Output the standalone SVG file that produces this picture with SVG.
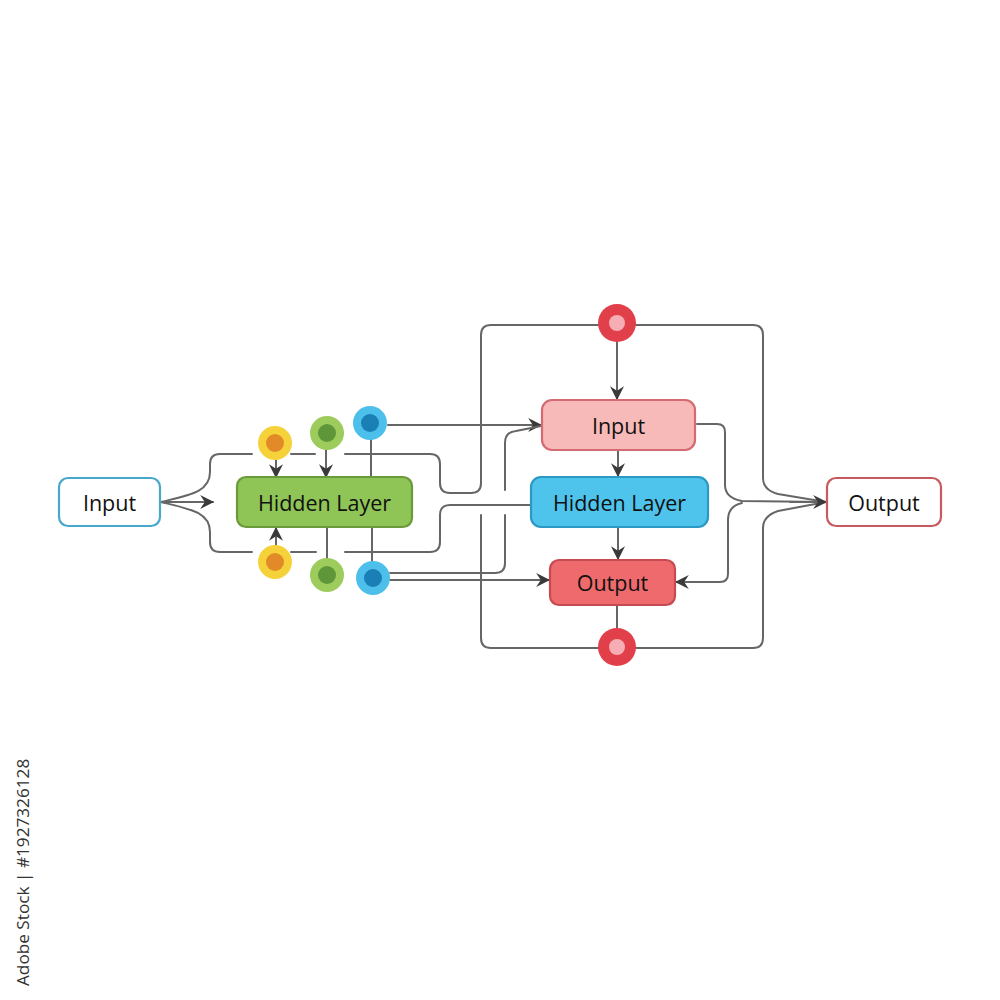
<svg xmlns="http://www.w3.org/2000/svg" width="1000" height="1000" viewBox="0 0 1000 1000">
<defs>
<marker id="ah" viewBox="0 0 12 12" refX="11" refY="6" markerWidth="14" markerHeight="14" markerUnits="userSpaceOnUse" orient="auto">
<path d="M0,0 L12,6 L0,12 L4,6 z" fill="#3a3a3a"/>
</marker>
<style>
.ln{fill:none;stroke:#666666;stroke-width:2;stroke-linecap:round;stroke-linejoin:round}
.ar{marker-end:url(#ah)}
.lbl{font-family:"Open Sans","Noto Sans","DejaVu Sans",sans-serif;font-size:21.5px;fill:#111111;text-anchor:middle;dominant-baseline:central}
.box{stroke-width:2.2}
</style>
</defs>
<rect width="1000" height="1000" fill="#ffffff"/>

<g id="connectors">
<path class="ln ar" d="M161,502 L213,502"/>
<path class="ln" d="M161,502 C190,495 210,492 210,472 L210,464 Q210,454 220,454 L252,454"/>
<path class="ln" d="M161,502 C190,509 210,512 210,532 L210,542 Q210,552 220,552 L252,552"/>
<path class="ln" d="M291,454 L315,454"/>
<path class="ln" d="M345,454 L430,454 Q440,454 440,464 L440,483 Q440,493 450,493 L471,493 Q481,493 481,483 L481,335 Q481,325 491,325 L753,325 Q763,325 763,335 L763,478 Q763,490 778,494 L826,502"/>
<path class="ln" d="M291,552 L316,552"/>
<path class="ln" d="M345,552 L430,552 Q440,552 440,542 L440,515 Q440,505 450,505 L531,505"/>
<path class="ln" d="M481,515 L481,638 Q481,648 491,648 L753,648 Q763,648 763,638 L763,528 Q763,516 778,511 L826,502"/>
<path class="ln ar" d="M276,460 L276,477"/>
<path class="ln ar" d="M326,450 L326,477"/>
<path class="ln ar" d="M276,545 L276,528"/>
<path class="ln" d="M327,528 L327,558"/>
<path class="ln" d="M371,440 L371,478"/>
<path class="ln" d="M372,527 L372,561"/>
<path class="ln ar" d="M388,425 L541,425"/>
<path class="ln" d="M505,490 L505,443 Q505,432 516,431 L541,426"/>
<path class="ln" d="M390,573 L495,573 Q505,573 505,563 L505,515"/>
<path class="ln ar" d="M390,580 L549,580"/>
<path class="ln ar" d="M617,342 L617,399"/>
<path class="ln ar" d="M618,450 L618,476"/>
<path class="ln ar" d="M618,527 L618,559"/>
<path class="ln" d="M617,605 L617,628"/>
<path class="ln" d="M697,424 L717,424 Q725,424 725,432 L725,485 Q725,498 742,501 L826,502"/>
<path class="ln ar" d="M742,503 Q728,506 728,520 L728,574 Q728,582 720,582 L676,582"/>
<path class="ln ar" d="M790,502 L826,502"/>
</g>

<g id="node-input-left">
<rect class="box" x="59" y="478" width="101" height="48" rx="9" fill="#ffffff" stroke="#4aa7cc"/>
<text class="lbl" x="109.5" y="502">Input</text>
</g>

<g id="node-hidden-green">
<rect class="box" x="237" y="477" width="175" height="50" rx="9" fill="#8fc456" stroke="#6b9a3c"/>
<text class="lbl" x="324.5" y="502">Hidden Layer</text>
</g>

<g id="node-circle-yellow-top">
<circle cx="275" cy="443" r="17" fill="#f6d23a"/>
<circle cx="275" cy="443" r="9" fill="#e38a28"/>
</g>
<g id="node-circle-green-top">
<circle cx="327" cy="433" r="17" fill="#9dcb5c"/>
<circle cx="327" cy="433" r="9" fill="#5e963a"/>
</g>
<g id="node-circle-blue-top">
<circle cx="370" cy="423" r="17" fill="#4dbfeb"/>
<circle cx="370" cy="423" r="9" fill="#1a7fb5"/>
</g>
<g id="node-circle-yellow-bottom">
<circle cx="275" cy="562" r="17" fill="#f6d23a"/>
<circle cx="275" cy="562" r="9" fill="#e38a28"/>
</g>
<g id="node-circle-green-bottom">
<circle cx="327" cy="575" r="17" fill="#9dcb5c"/>
<circle cx="327" cy="575" r="9" fill="#5e963a"/>
</g>
<g id="node-circle-blue-bottom">
<circle cx="373" cy="578" r="17" fill="#4dbfeb"/>
<circle cx="373" cy="578" r="9" fill="#1a7fb5"/>
</g>

<g id="node-circle-red-top">
<circle cx="617" cy="323" r="19" fill="#e1404a"/>
<circle cx="617" cy="323" r="8" fill="#f6adb3"/>
</g>
<g id="node-circle-red-bottom">
<circle cx="617" cy="647" r="19" fill="#e1404a"/>
<circle cx="617" cy="647" r="8" fill="#f6adb3"/>
</g>

<g id="node-input-pink">
<rect class="box" x="542" y="400" width="153" height="50" rx="10" fill="#f8b9b9" stroke="#d46a72"/>
<text class="lbl" x="618.5" y="425">Input</text>
</g>
<g id="node-hidden-blue">
<rect class="box" x="531" y="477" width="177" height="50" rx="10" fill="#4ec4ec" stroke="#2b99c4"/>
<text class="lbl" x="619.5" y="502">Hidden Layer</text>
</g>
<g id="node-output-red">
<rect class="box" x="550" y="560" width="125" height="45" rx="9" fill="#ef6a6c" stroke="#c64a52"/>
<text class="lbl" x="612.5" y="582.5">Output</text>
</g>

<g id="node-output-right">
<rect class="box" x="827" y="478" width="114" height="48" rx="9" fill="#ffffff" stroke="#c85a5e"/>
<text class="lbl" x="884" y="502">Output</text>
</g>

<text x="29" y="986" transform="rotate(-90 29 986)" font-family="'Open Sans','Noto Sans',sans-serif" font-size="17.2" fill="#333333">Adobe Stock | #1927326128</text>
</svg>
